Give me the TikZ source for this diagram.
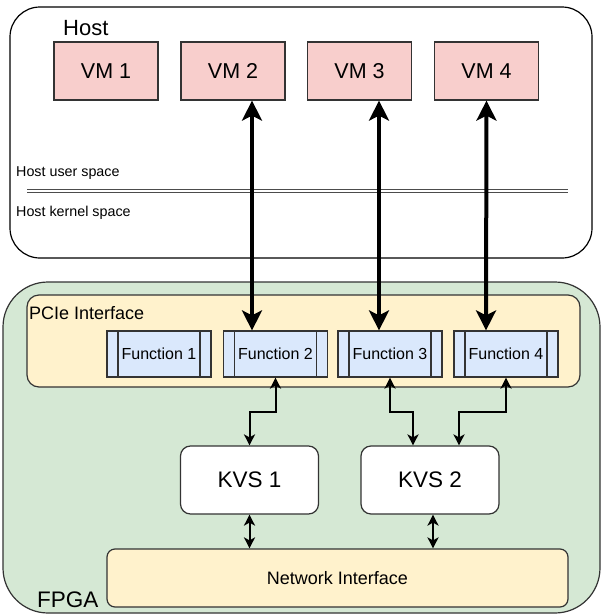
\documentclass[tikz,border=0pt]{standalone}
\usepackage{fontspec}
\setmainfont{Liberation Sans}
\usetikzlibrary{arrows.meta}
\definecolor{vmred}{HTML}{F8CECC}
\definecolor{fpgagreen}{HTML}{D5E8D4}
\definecolor{ifyellow}{HTML}{FFF2CC}
\definecolor{fnblue}{HTML}{DAE8FC}
\begin{document}
\begin{tikzpicture}[x=1pt,y=-1pt,
	box/.style={draw=black!80, line width=1.2pt},
	vm/.style={box, fill=vmred, minimum width=104pt, minimum height=58pt, font=\fontsize{21.5}{25}\selectfont},
	fn/.style={box, fill=fnblue, minimum width=104pt, minimum height=46pt, font=\fontsize{16}{19}\selectfont,
		path picture={\draw[line width=1.2pt, black!80]
			([xshift=11pt]path picture bounding box.north west) -- ([xshift=11pt]path picture bounding box.south west)
			([xshift=-11pt]path picture bounding box.north east) -- ([xshift=-11pt]path picture bounding box.south east);}},
	kvs/.style={box, fill=white, rounded corners=10pt, minimum width=138pt, minimum height=68pt, font=\fontsize{22.5}{26}\selectfont},
	lbl/.style={inner sep=0pt, anchor=west},
	bigarrow/.style={line width=4pt, {Stealth[length=20pt,width=20pt,inset=5pt]}-{Stealth[length=20pt,width=20pt,inset=5pt]}},
	smallarrow/.style={line width=2pt, {Stealth[length=11pt,width=11pt,inset=3pt]}-{Stealth[length=11pt,width=11pt,inset=3pt]}}]
	\useasboundingbox (0,0) rectangle (600,616);

	\node[box, draw=black, fill=white, rounded corners=30pt, minimum width=582pt, minimum height=251pt] at (301,132.5) (host) {};
	\node[lbl, font=\fontsize{22}{26}\selectfont] at (63,28) (hostlbl) {Host};
	\node[vm] at (106,71) (vma) {VM 1};
	\node[vm] at (233,71) (vmb) {VM 2};
	\node[vm] at (359.5,71) (vmc) {VM 3};
	\node[vm] at (486.5,71) (vmd) {VM 4};
	\node[lbl, font=\fontsize{14.3}{17}\selectfont] at (16,173) (user) {Host user space};
	\node[lbl, font=\fontsize{14.3}{17}\selectfont] at (16,213) (kernel) {Host kernel space};
	\draw[black!70, line width=1pt, double, double distance=2.5pt] (27,191) -- (568,191);

	\node[box, fill=fpgagreen, rounded corners=45pt, minimum width=597pt, minimum height=331pt] at (301.5,447.5) (fpga) {};
	\node[lbl, font=\fontsize{22.5}{26}\selectfont] at (37,600) (fpgalbl) {FPGA};
	\node[box, fill=ifyellow, rounded corners=12pt, minimum width=553pt, minimum height=92pt] at (303.5,341) (pcie) {};
	\node[lbl, font=\fontsize{18}{21}\selectfont] at (29,313) (pcielbl) {PCIe Interface};

	\node[fn] at (159,354) (fna) {Function 1};
	\node[fn] at (275.5,354) (fnb) {Function 2};
	\node[fn] at (390,354) (fnc) {Function 3};
	\node[fn] at (506,354) (fnd) {Function 4};

	\node[kvs] at (249.5,480) (kvsa) {KVS 1};
	\node[kvs] at (430,480) (kvsb) {KVS 2};
	\node[box, fill=ifyellow, rounded corners=8pt, minimum width=461pt, minimum height=58pt, font=\fontsize{18}{21}\selectfont] at (337.5,578) (ni) {Network Interface};

	\draw[bigarrow] ([xshift=19pt]vmb.south) -- ([xshift=-23.5pt]fnb.north);
	\draw[bigarrow] ([xshift=19.5pt]vmc.south) -- ([xshift=-11pt]fnc.north);
	\draw[bigarrow] (vmd.south) -- ([xshift=-20pt]fnd.north);

	\draw[smallarrow] (fnb.south) -- ++(0,34) -| (kvsa.north);
	\draw[smallarrow] (fnc.south) -- ++(0,34) -| ([xshift=-17pt]kvsb.north);
	\draw[smallarrow] (fnd.south) -- ++(0,34) -| ([xshift=29pt]kvsb.north);
	\draw[smallarrow] (kvsa.south) -- (kvsa.south |- ni.north);
	\draw[smallarrow] ([xshift=3pt]kvsb.south) -- ([xshift=3pt]kvsb.south |- ni.north);
\end{tikzpicture}
\end{document}
